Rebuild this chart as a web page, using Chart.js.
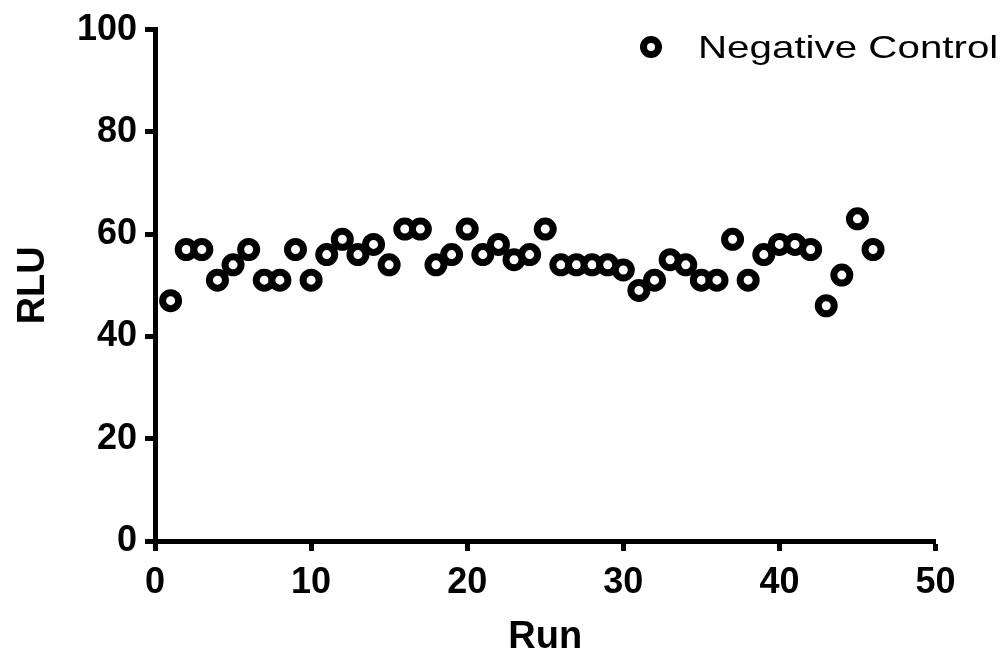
<!DOCTYPE html>
<html>
<head>
<meta charset="utf-8">
<script src="https://cdn.jsdelivr.net/npm/chart.js@4"></script>
<style>
  html, body { margin: 0; padding: 0; background: #fff; }
  #wrap { width: 1007px; height: 657px; }
</style>
</head>
<body>
<div id="wrap"><canvas id="runChart"></canvas></div>
<script>
const runs = [1, 2, 3, 4, 5, 6, 7, 8, 9, 10, 11, 12, 13, 14, 15, 16, 17, 18, 19, 20, 21, 22, 23,
  24, 25, 26, 27, 28, 29, 30, 31, 32, 33, 34, 35, 36, 37, 38, 39, 40, 41, 42, 43, 44, 45, 46];
const rlu = [47, 57, 57, 51, 54, 57, 51, 51, 57, 51, 56, 59, 56, 58, 54, 61, 61, 54, 56, 61, 56, 58, 55,
  56, 61, 54, 54, 54, 54, 53, 49, 51, 55, 54, 51, 51, 59, 51, 56, 58, 58, 57, 46, 52, 63, 57];
const seriesName = 'Negative Control';
const xTicks = [0, 10, 20, 30, 40, 50];
const yTicks = [0, 20, 40, 60, 80, 100];

const fontFamily = '"Liberation Sans", Arial, sans-serif';

// legend drawn by hand so the text can be stretched like the original
const legendPlugin = {
    id: 'stretchedLegend',
    afterDraw(chart) {
        const ctx = chart.ctx;
        const ds = chart.data.datasets[0];
        ctx.save();
        ctx.beginPath();
        ctx.arc(651, 47, 7.5, 0, Math.PI * 2);
        ctx.lineWidth = 7;
        ctx.strokeStyle = '#000';
        ctx.stroke();
        ctx.font = '32px ' + fontFamily;
        ctx.fillStyle = '#000';
        ctx.textBaseline = 'alphabetic';
        ctx.translate(698, 58);
        ctx.scale(1.26, 1);
        ctx.fillText(ds.label, 0, 0);
        ctx.restore();
    }
};

const ctx = document.getElementById('runChart');

new Chart(ctx, {
    type: 'scatter',
    data: {
        datasets: [{
            label: seriesName,
            data: runs.map((r, i) => ({ x: r, y: rlu[i] })),
            pointRadius: 8,
            pointHoverRadius: 8,
            borderWidth: 7,
            borderColor: '#000',
            backgroundColor: '#fff'
        }]
    },
    options: {
        responsive: true,
        maintainAspectRatio: false,
        animation: false,
        layout: { padding: { left: 0, top: 24, right: 71.5, bottom: 0 } },
        plugins: {
            legend: { display: false },
            tooltip: { enabled: false }
        },
        scales: {
            x: {
                type: 'linear',
                min: 0,
                max: 50,
                afterBuildTicks: scale => { scale.ticks = xTicks.map(v => ({ value: v })); },
                afterFit: scale => { scale.height = 116; },
                grid: { drawOnChartArea: false, drawTicks: true, tickLength: 10, tickWidth: 5, tickColor: '#000' },
                border: { display: true, width: 5, color: '#000' },
                ticks: { color: '#000', padding: 10, font: { family: fontFamily, size: 36, weight: 'bold' } },
                title: {
                    display: true,
                    text: 'Run',
                    color: '#000',
                    padding: { top: 0, bottom: 0 },
                    font: { family: fontFamily, size: 38, weight: 'bold', lineHeight: 1.0 }
                }
            },
            y: {
                type: 'linear',
                min: 0,
                max: 100,
                afterBuildTicks: scale => { scale.ticks = yTicks.map(v => ({ value: v })); },
                afterFit: scale => { scale.width = 155; },
                grid: { drawOnChartArea: false, drawTicks: true, tickLength: 10, tickWidth: 5, tickColor: '#000' },
                border: { display: true, width: 5, color: '#000' },
                ticks: { color: '#000', padding: 8, font: { family: fontFamily, size: 36, weight: 'bold' } },
                title: {
                    display: true,
                    text: 'RLU',
                    color: '#000',
                    padding: { top: 11, bottom: 0 },
                    font: { family: fontFamily, size: 38, weight: 'bold' }
                }
            }
        }
    },
    plugins: [legendPlugin]
});
</script>
</body>
</html>
